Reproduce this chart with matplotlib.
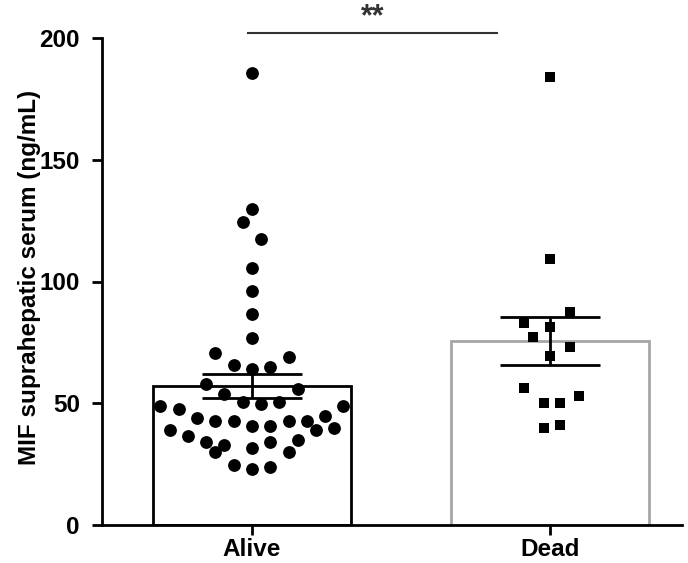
import numpy as np
import matplotlib
matplotlib.use("Agg")
import matplotlib.pyplot as plt

plt.rcParams['font.family'] = ['Liberation Sans', 'DejaVu Sans']
plt.rcParams['font.weight'] = 'bold'

groups = ["Alive", "Dead"]

alive_values = [185.5, 129.9, 124.4, 117.6, 105.6, 95.9, 86.7, 76.8,
                70.5, 68.8, 65.8, 64.1, 65.0, 57.9, 55.8, 53.8, 50.7, 49.7,
                50.7, 49.0, 47.6, 49.0, 44.9, 43.9, 42.8, 42.8, 40.7, 40.7,
                42.8, 42.8, 39.0, 39.8, 39.0, 36.6, 33.9, 32.9, 29.8, 31.8,
                33.9, 34.9, 29.8, 24.7, 22.9, 23.9]
# horizontal swarm slot of each point (in half-marker steps)
alive_slot = [0, 0, -1, 1, 0, 0, 0, 0,
              -4, 4, -2, 0, 2, -5, 5, -3, -1, 1,
              3, -10, -8, 10, 8, -6, -4, -2, 0, 2,
              4, 6, 7, 9, -9, -7, -5, -3, -4, 0,
              2, 5, 4, -2, 0, 2]

dead_values = [184.1, 109.3, 87.4, 83.0, 81.2, 77.4, 73.0, 69.5,
               56.2, 50.3, 50.3, 53.1, 40.0, 41.2]
dead_slot = [0, 0, 2.2, -2.8, 0, -1.8, 2.2, 0,
             -2.8, -0.7, 1.1, 3.2, -0.7, 1.1]

yticks = [0, 50, 100, 150, 200]
ylabel = "MIF suprahepatic serum (ng/mL)"
significance = "**"

SLOT = 9.15 / 298.0  # one swarm slot in category units
FS = 17.5

fig = plt.figure(figsize=(6.88, 5.63), dpi=100)
ax = fig.add_axes([102 / 688, 38 / 563, 580 / 688, 487 / 563])

values = [np.array(alive_values), np.array(dead_values)]
slots = [np.array(alive_slot), np.array(dead_slot)]
means = [v.mean() for v in values]
sems = [v.std(ddof=1) / np.sqrt(len(v)) for v in values]

edge_colors = ["black", "#a6a6a6"]
for i in range(2):
    ax.bar(i, means[i], width=0.667, facecolor="white",
           edgecolor=edge_colors[i], linewidth=2.0, zorder=1)
    ax.errorbar(i, means[i], yerr=sems[i], color="black", elinewidth=2.0,
                capsize=36, capthick=2.0, zorder=2)

ax.scatter(0 + slots[0] * SLOT, values[0], s=85, marker="o",
           color="black", linewidths=0, zorder=3)
ax.scatter(1 + slots[1] * SLOT, values[1], s=55, marker="s",
           color="black", linewidths=0, zorder=3)

ax.set_xlim(-0.503, 1.443)
ax.set_ylim(0, 200)
ax.set_yticks(yticks)
ax.set_xticks([0, 1])
ax.set_xticklabels(groups, fontsize=FS, fontweight="bold")
ax.set_ylabel(ylabel, fontsize=FS, fontweight="bold")
ax.yaxis.set_label_coords(-0.105, 0.508)
for lab in ax.get_yticklabels():
    lab.set_fontsize(FS)
    lab.set_fontweight("bold")

for side in ("top", "right"):
    ax.spines[side].set_visible(False)
for side in ("left", "bottom"):
    ax.spines[side].set_linewidth(2.0)
ax.tick_params(axis="y", width=2.0, length=7, pad=9)
ax.tick_params(axis="x", width=2.0, length=7, pad=2)

# significance bracket between groups
ax.plot([-0.013, 0.822], [202, 202], color="#333333", linewidth=1.5,
        clip_on=False)
ax.text(0.4045, 202.3, significance, ha="center", va="bottom",
        fontsize=22, fontweight="bold", color="#333333", clip_on=False)

fig.savefig("out.png", dpi=100)
